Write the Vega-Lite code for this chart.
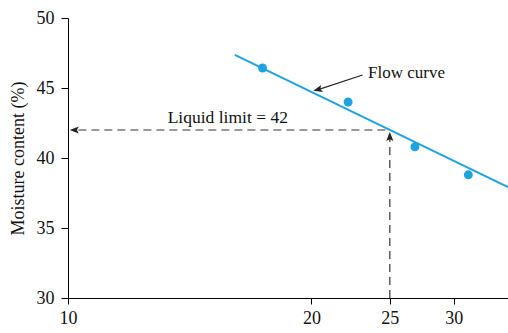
{
  "$schema": "https://vega.github.io/schema/vega-lite/v6.json",
  "width": 440,
  "height": 280,
  "autosize": "none",
  "padding": {"left": 68, "top": 18, "right": 0, "bottom": 35},
  "background": "white",
  "config": {
    "view": {"stroke": null},
    "font": "Liberation Serif",
    "axis": {"domainColor": "black", "tickColor": "black", "labelColor": "#111111", "titleColor": "#111111", "grid": false, "labelFont": "Liberation Serif", "titleFont": "Liberation Serif", "labelFontSize": 18, "titleFontSize": 18, "titleFontWeight": "normal", "tickSize": 7, "domainWidth": 1, "tickWidth": 1, "labelFlush": false, "labelOverlap": false}
  },
  "datasets": {
    "fit": [{"w": 16.08, "m": 47.36}, {"w": 35, "m": 37.92}],
    "pts": [{"w": 17.4, "m": 46.43}, {"w": 22.2, "m": 44.0}, {"w": 26.85, "m": 40.8}, {"w": 31.26, "m": 38.8}],
    "hdash": [{"w": 10.3, "w2": 25, "m": 42}],
    "vdash": [{"w": 25, "m": 30, "m2": 41.6}],
    "arrowL": [{"w": 10.05, "m": 42}],
    "arrowU": [{"w": 25, "m": 41.85}],
    "flowline": [{"w": 23.13, "m": 45.93, "w2": 20.3, "m2": 44.85}],
    "flowtip": [{"w": 20.11, "m": 44.8}],
    "labels": [{"w": 23.5, "m": 46.07, "t": "Flow curve"}],
    "labels2": [{"w": 15.76, "m": 42.86, "t": "Liquid limit = 42"}]
  },
  "layer": [
    {
      "data": {"name": "fit"},
      "mark": {"type": "line", "color": "#1fa3de", "strokeWidth": 2, "clip": true},
      "encoding": {
        "x": {"field": "w", "type": "quantitative", "scale": {"type": "log", "domain": [10, 35], "nice": false}, "axis": {"values": [10, 20, 25, 30], "title": null, "labelPadding": 5, "tickSize": 6}},
        "y": {"field": "m", "type": "quantitative", "scale": {"domain": [30, 50], "nice": false}, "axis": {"values": [30, 35, 40, 45, 50], "title": "Moisture content (%)", "titlePadding": 9, "labelPadding": 7}}
      }
    },
    {
      "data": {"name": "pts"},
      "mark": {"type": "point", "filled": true, "color": "#1fa3de", "opacity": 1, "size": 80},
      "encoding": {
        "x": {"field": "w", "type": "quantitative"},
        "y": {"field": "m", "type": "quantitative"}
      }
    },
    {
      "data": {"name": "hdash"},
      "mark": {"type": "rule", "color": "#333333", "strokeDash": [8, 5], "strokeWidth": 1.2},
      "encoding": {
        "x": {"field": "w", "type": "quantitative"},
        "x2": {"field": "w2"},
        "y": {"field": "m", "type": "quantitative"}
      }
    },
    {
      "data": {"name": "vdash"},
      "mark": {"type": "rule", "color": "#333333", "strokeDash": [8, 5], "strokeWidth": 1.2},
      "encoding": {
        "x": {"field": "w", "type": "quantitative"},
        "y": {"field": "m", "type": "quantitative"},
        "y2": {"field": "m2"}
      }
    },
    {
      "data": {"name": "arrowL"},
      "mark": {"type": "point", "filled": true, "color": "#222222", "opacity": 1, "size": 324, "shape": "M0,0L1,-0.4L0.8,0L1,0.4Z"},
      "encoding": {
        "x": {"field": "w", "type": "quantitative"},
        "y": {"field": "m", "type": "quantitative"}
      }
    },
    {
      "data": {"name": "arrowU"},
      "mark": {"type": "point", "filled": true, "color": "#222222", "opacity": 1, "size": 324, "shape": "M0,0L-0.4,1L0,0.8L0.4,1Z"},
      "encoding": {
        "x": {"field": "w", "type": "quantitative"},
        "y": {"field": "m", "type": "quantitative"}
      }
    },
    {
      "data": {"name": "flowline"},
      "mark": {"type": "rule", "color": "#222222", "strokeWidth": 1.2},
      "encoding": {
        "x": {"field": "w", "type": "quantitative"},
        "y": {"field": "m", "type": "quantitative"},
        "x2": {"field": "w2"},
        "y2": {"field": "m2"}
      }
    },
    {
      "data": {"name": "flowtip"},
      "mark": {"type": "point", "filled": true, "color": "#222222", "opacity": 1, "size": 324, "angle": 345, "shape": "M0,0L1,-0.4L0.8,0L1,0.4Z"},
      "encoding": {
        "x": {"field": "w", "type": "quantitative"},
        "y": {"field": "m", "type": "quantitative"}
      }
    },
    {
      "data": {"name": "labels"},
      "mark": {"type": "text", "align": "left", "baseline": "middle", "fontSize": 17, "font": "Liberation Serif", "color": "#111111"},
      "encoding": {
        "x": {"field": "w", "type": "quantitative"},
        "y": {"field": "m", "type": "quantitative"},
        "text": {"field": "t"}
      }
    },
    {
      "data": {"name": "labels2"},
      "mark": {"type": "text", "align": "center", "baseline": "middle", "fontSize": 17.5, "font": "Liberation Serif", "color": "#111111"},
      "encoding": {
        "x": {"field": "w", "type": "quantitative"},
        "y": {"field": "m", "type": "quantitative"},
        "text": {"field": "t"}
      }
    }
  ]
}
